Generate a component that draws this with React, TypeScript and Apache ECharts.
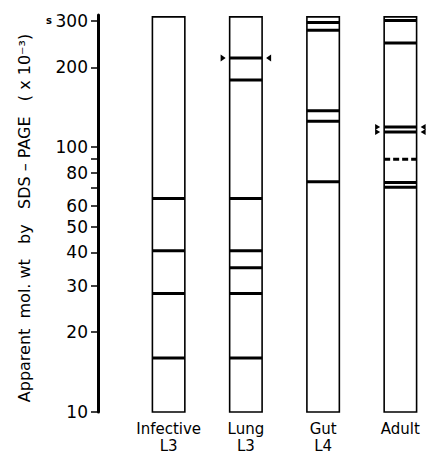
import React, { useEffect, useRef } from "react";
import * as echarts from "echarts";

const FONT = "DejaVu Sans";

// Lanes (categories)
const lanes = ["Infective\nL3", "Lung\nL3", "Gut\nL4", "Adult"];

// Apparent molecular weight of bands (x 10^-3), per lane
const infectiveBands = [64, 40.6, 28, 16];
const lungBands = [217, 179, 64, 40.6, 35, 28, 16];
const gutBands = [295, 276, 137, 125, 74];
const adultBands = [300, 247, 119, 114, 73.5, 70.5];
const adultDashedBands = [90];

// Bands marked with arrowheads: [lane index, mol. wt]
const arrowBands: [number, number][] = [
  [1, 217],
  [3, 119],
  [3, 114],
];

// Gel lane extent (mol. wt)
const laneBottom = 10;
const laneTop = 310;

// Axis ticks
const tickValues = [10, 20, 30, 40, 50, 60, 70, 80, 90, 100, 200, 300];
const labelValues = [10, 20, 30, 40, 50, 60, 80, 100, 200, 300];

export default function App() {
  const ref = useRef<HTMLDivElement>(null);

  useEffect(() => {
    if (!ref.current) return;
    const chart = echarts.init(ref.current, null, { renderer: "svg" });

    const bandData: any[] = [];
    const addBands = (lane: number, arr: number[], dashed: number) => {
      arr.forEach((v) => bandData.push([lane, v, dashed]));
    };
    addBands(0, infectiveBands, 0);
    addBands(1, lungBands, 0);
    addBands(2, gutBands, 0);
    addBands(3, adultBands, 0);
    addBands(3, adultDashedBands, 1);

    const laneData = lanes.map((_, i) => [i, laneBottom, laneTop]);

    const option: any = {
      animation: false,
      grid: { left: 130, width: 320, top: 15, bottom: 43 },
      xAxis: {
        type: "category",
        data: lanes,
        axisLine: { show: false },
        axisTick: { show: false },
        axisLabel: {
          interval: 0,
          color: "#000",
          fontSize: 15,
          fontFamily: FONT,
          lineHeight: 17,
          margin: 8,
        },
      },
      yAxis: {
        type: "log",
        logBase: 10,
        min: 10,
        max: 315,
        offset: 32,
        axisLine: { show: true, lineStyle: { color: "#000", width: 3 } },
        axisTick: {
          show: true,
          length: 7,
          lineStyle: { color: "#000", width: 1.5 },
          customValues: tickValues,
        },
        axisLabel: {
          color: "#000",
          fontSize: 17,
          fontFamily: FONT,
          margin: 10,
          customValues: labelValues,
        },
        splitLine: { show: false },
        minorTick: { show: false },
      },
      graphic: [
        {
          type: "text",
          x: 24,
          y: 218,
          rotation: Math.PI / 2,
          style: {
            text: "Apparent  mol. wt   by   SDS – PAGE   ( x 10⁻³)",
            fontSize: 16,
            fontFamily: FONT,
            fill: "#000",
            align: "center",
            verticalAlign: "middle",
          },
        },
        {
          type: "text",
          x: 49,
          y: 20,
          style: {
            text: "s",
            fontSize: 10,
            fontWeight: "bold",
            fontFamily: FONT,
            fill: "#000",
            align: "center",
            verticalAlign: "middle",
          },
        },
      ],
      series: [
        {
          type: "custom",
          data: laneData,
          renderItem: (params: any, api: any) => {
            const top = api.coord([api.value(0), api.value(2)]);
            const bot = api.coord([api.value(0), api.value(1)]);
            const w = api.size([1, 0])[0] * 0.42;
            return {
              type: "rect",
              shape: { x: top[0] - w / 2, y: top[1], width: w, height: bot[1] - top[1] },
              style: { fill: "#fff", stroke: "#000", lineWidth: 1.6 },
            };
          },
        },
        {
          type: "custom",
          data: bandData,
          renderItem: (params: any, api: any) => {
            const p = api.coord([api.value(0), api.value(1)]);
            const w = api.size([1, 0])[0] * 0.42;
            const dashed = api.value(2) === 1;
            return {
              type: "line",
              shape: { x1: p[0] - w / 2, y1: p[1], x2: p[0] + w / 2, y2: p[1] },
              style: {
                stroke: "#000",
                lineWidth: 3,
                lineDash: dashed ? [6, 3] : null,
              },
            };
          },
        },
        {
          type: "custom",
          data: arrowBands,
          renderItem: (params: any, api: any) => {
            const p = api.coord([api.value(0), api.value(1)]);
            const w = api.size([1, 0])[0] * 0.42;
            const l = p[0] - w / 2 - 4;
            const r = p[0] + w / 2 + 4;
            const h = api.value(0) === 3 ? 3 : 3.5;
            return {
              type: "group",
              children: [
                {
                  type: "polygon",
                  shape: { points: [[l, p[1]], [l - 5, p[1] - h], [l - 5, p[1] + h]] },
                  style: { fill: "#000" },
                },
                {
                  type: "polygon",
                  shape: { points: [[r, p[1]], [r + 5, p[1] - h], [r + 5, p[1] + h]] },
                  style: { fill: "#000" },
                },
              ],
            };
          },
        },
      ],
    };

    chart.setOption(option);
    return () => chart.dispose();
  }, []);

  return <div ref={ref} style={{ width: 439, height: 455, position: "absolute", left: 0, top: 0 }} />;
}
